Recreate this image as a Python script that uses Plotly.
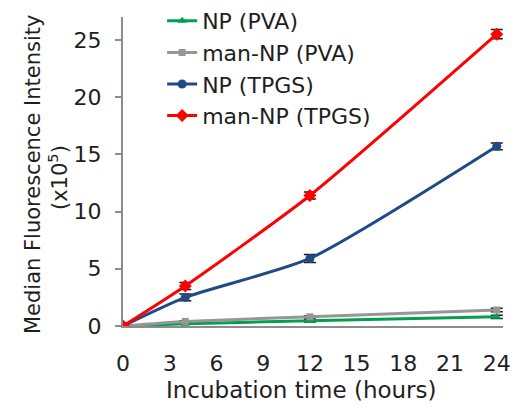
import plotly.graph_objects as go

hours = [0, 4, 12, 24]
np_pva = [0, 0.2, 0.45, 0.8]
np_pva_err = [0, 0.05, 0.1, 0.15]
man_np_pva = [0, 0.4, 0.8, 1.4]
man_np_pva_err = [0, 0.05, 0.1, 0.15]
np_tpgs = [0, 2.5, 5.9, 15.7]
np_tpgs_err = [0, 0.3, 0.35, 0.3]
man_np_tpgs = [0, 3.5, 11.4, 25.5]
man_np_tpgs_err = [0, 0.3, 0.3, 0.4]

x_ticks = [0, 3, 6, 9, 12, 15, 18, 21, 24]
y_ticks = [0, 5, 10, 15, 20, 25]

series = [
    ("NP (PVA)", np_pva, np_pva_err, "#00a050", "triangle-up", 8),
    ("man-NP (PVA)", man_np_pva, man_np_pva_err, "#969696", "square", 7),
    ("NP (TPGS)", np_tpgs, np_tpgs_err, "#1f4a86", "circle", 9),
    ("man-NP (TPGS)", man_np_tpgs, man_np_tpgs_err, "#ff0000", "diamond", 10),
]

fig = go.Figure()
for name, ys, err, col, sym, sz in series:
    fig.add_trace(go.Scatter(
        x=hours, y=ys, name=name, mode="lines+markers",
        line=dict(color=col, width=3, shape="spline", smoothing=0.6),
        marker=dict(symbol=sym, size=sz, color=col),
        error_y=dict(type="data", array=err, visible=True, color="#1a1a1a", thickness=1.5, width=6),
    ))

font = "DejaVu Sans, Liberation Sans, Arial, sans-serif"
tc = "#1e1e1e"
fig.update_layout(
    width=512, height=410,
    margin=dict(l=123, r=9, t=0, b=84),
    paper_bgcolor="white", plot_bgcolor="white",
    font=dict(family=font, size=22, color=tc),
    showlegend=True,
    legend=dict(x=0.103, y=1.0, xanchor="left", yanchor="top",
                bgcolor="rgba(0,0,0,0)", font=dict(size=22, color=tc),
                tracegroupgap=0),
    xaxis=dict(range=[0, 24.4], tickvals=x_ticks, showgrid=False, zeroline=False,
               showline=True, linecolor="#8c8c8c", linewidth=2, ticks="",
               automargin=False, ticklabelstandoff=17,
               tickfont=dict(size=22, color=tc)),
    yaxis=dict(range=[0, 27], domain=[0, 309 / 326], tickvals=y_ticks,
               showgrid=False, zeroline=False,
               showline=True, linecolor="#8c8c8c", linewidth=2, ticks="outside",
               ticklen=6, tickcolor="#8c8c8c", tickwidth=2, automargin=False,
               ticklabelstandoff=9,
               tickfont=dict(size=22, color=tc)),
    annotations=[
        dict(text="Incubation time (hours)", xref="paper", yref="paper",
             x=0.471, y=0, yshift=-64, xanchor="center", yanchor="middle",
             showarrow=False, font=dict(size=23, color=tc)),
        dict(text="Median Fluorescence Intensity", xref="paper", yref="paper",
             x=0, xshift=-90, y=0.463, xanchor="center", yanchor="middle",
             textangle=-90, showarrow=False, font=dict(size=21, color=tc)),
        dict(text="(x10<sup>5</sup>)", xref="paper", yref="paper",
             x=0, xshift=-65, y=0.454, xanchor="center", yanchor="middle",
             textangle=-90, showarrow=False, font=dict(size=21, color=tc)),
    ],
)

fig.write_html("out.html", config={"displayModeBar": False},
               post_script="document.body.style.margin='0';")
